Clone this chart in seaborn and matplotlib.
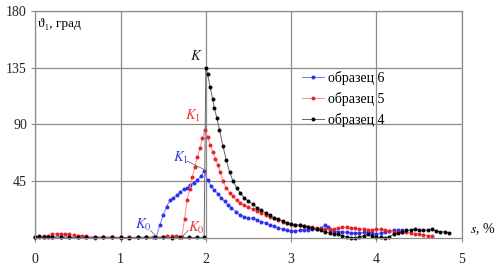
import numpy as np
import pandas as pd
import matplotlib
matplotlib.use("Agg")
import matplotlib.pyplot as plt
import seaborn as sns

# образец 6 (blue)
x6 = [0.0, 0.1, 0.2, 0.3, 0.4, 0.5, 0.6, 0.7, 0.8, 0.9, 1.0, 1.1, 1.2, 1.3, 1.38, 1.42,
      1.46, 1.5, 1.54, 1.58, 1.62, 1.66, 1.7, 1.74, 1.78, 1.82, 1.86, 1.9, 1.94, 1.98,
      2.02, 2.06, 2.1, 2.14, 2.18, 2.22, 2.26, 2.3, 2.35, 2.4, 2.45, 2.5, 2.55, 2.6,
      2.65, 2.7, 2.75, 2.8, 2.85, 2.9, 2.95, 3.0, 3.05, 3.1, 3.15, 3.2, 3.25, 3.3, 3.35,
      3.4, 3.43, 3.46, 3.5, 3.55, 3.6, 3.65, 3.7, 3.75, 3.8, 3.85, 3.9, 3.95, 4.0, 4.05,
      4.1, 4.15, 4.2, 4.25, 4.3]
y6 = [0.5, 0.6, 0.8, 0.7, 0.6, 0.5, 0.5, 0.4, 0.5, 0.5, 0.4, 0.5, 0.6, 0.6, 0.8, 1.0,
      10, 18, 25, 30, 32, 34, 36.5, 38.5, 40, 42, 44, 46, 49, 53,
      46, 41, 38, 35, 32, 29, 26.5, 24, 21, 18.5, 17, 16, 15.5, 14.5,
      13, 12, 10.5, 9.5, 8, 7, 6, 5.5, 5.5, 6, 6.5, 6.5, 7, 7, 8,
      10, 9, 6, 5.5, 5, 5, 4.5, 4, 4, 4, 4.5, 5, 4, 3.5, 4,
      5, 5.5, 6, 6, 6]

# образец 5 (red)
x5 = [0.0, 0.05, 0.1, 0.15, 0.2, 0.25, 0.3, 0.35, 0.4, 0.45, 0.5, 0.55, 0.6, 0.7, 0.8,
      0.9, 1.0, 1.1, 1.2, 1.3, 1.4, 1.5, 1.55, 1.6, 1.65, 1.69, 1.72, 1.75, 1.78, 1.81,
      1.84, 1.87, 1.9, 1.93, 1.96, 1.99, 2.02, 2.05, 2.08, 2.11, 2.14, 2.17, 2.2, 2.24,
      2.28, 2.32, 2.36, 2.4, 2.45, 2.5, 2.55, 2.6, 2.65, 2.7, 2.75, 2.8, 2.85, 2.9, 2.95,
      3.0, 3.05, 3.1, 3.15, 3.2, 3.25, 3.3, 3.35, 3.4, 3.45, 3.5, 3.55, 3.6, 3.65, 3.7,
      3.75, 3.8, 3.85, 3.9, 3.95, 4.0, 4.05, 4.1, 4.15, 4.2, 4.25, 4.3, 4.35, 4.4, 4.45,
      4.5, 4.55, 4.6, 4.65]
y5 = [1, 1, 1.5, 2, 3, 3.5, 3.5, 3, 3, 2.5, 2, 2, 1.5, 1.2, 1,
      0.8, 0.6, 0.5, 0.5, 0.6, 0.8, 1.2, 1.5, 1.8, 1.5, 1, 1, 15, 30, 39,
      48, 56, 64, 71, 79, 86, 80, 74, 68, 63, 58, 52, 45, 40,
      36, 33, 30, 28, 26, 24.5, 23, 21.5, 20, 18.5, 17, 15.5, 14.5, 13, 12,
      11, 10.5, 10, 9.5, 9, 8.5, 8, 7.5, 7, 7, 7.5, 8, 8.5, 8.5, 8,
      8, 7.5, 7, 6.5, 6.5, 7, 7, 6, 5.5, 5, 4.5, 4.5, 4.5, 4, 3.5,
      3, 2.5, 2, 2]

# образец 4 (black)
x4 = [0.0, 0.05, 0.1, 0.15, 0.2, 0.3, 0.4, 0.5, 0.6, 0.7, 0.8, 0.9, 1.0, 1.1, 1.2,
      1.3, 1.4, 1.5, 1.6, 1.7, 1.8, 1.9, 1.98, 2.0, 2.02, 2.05, 2.08, 2.1, 2.13, 2.16,
      2.2, 2.24, 2.28, 2.32, 2.36, 2.4, 2.45, 2.5, 2.55, 2.6, 2.65, 2.7, 2.75, 2.8, 2.85,
      2.9, 2.95, 3.0, 3.05, 3.1, 3.15, 3.2, 3.25, 3.3, 3.35, 3.4, 3.45, 3.5, 3.55, 3.6,
      3.65, 3.7, 3.75, 3.8, 3.85, 3.9, 3.95, 4.0, 4.05, 4.1, 4.15, 4.2, 4.25, 4.3, 4.35,
      4.4, 4.45, 4.5, 4.55, 4.6, 4.65, 4.7, 4.75, 4.8, 4.85]
y4 = [1.2, 1.5, 1.2, 1.0, 0.8, 0.8, 0.6, 0.6, 0.5, 0.5, 0.5, 0.5, 0.5, 0.4, 0.5,
      0.5, 0.5, 0.5, 0.4, 0.5, 0.5, 0.5, 0.5, 135, 130, 120, 110, 103, 95, 86,
      73, 62, 52, 45, 40, 36, 32, 29, 27, 24, 22, 20, 18, 16, 15,
      13.5, 12, 11, 10.5, 10, 9.5, 8.7, 8, 7, 6, 5, 4, 3.5, 3, 2,
      1, 0.3, 0.2, 0.5, 2, 3, 2, 1, 0.5, 0.3, 1, 3, 4, 5, 6,
      6.5, 7, 6.5, 6, 6.5, 7, 5.5, 5, 5, 4]

series = [
    ("образец 6", x6, y6, "#2b2bf0", "#7878ff"),
    ("образец 5", x5, y5, "#e8202a", "#ff8a8a"),
    ("образец 4", x4, y4, "#000000", "#666666"),
]

fig, ax = plt.subplots(figsize=(5.03, 2.73), dpi=100)
fig.subplots_adjust(left=0.07, right=0.918, top=0.96, bottom=0.128)
plt.rcParams["mathtext.fontset"] = "stix"
serif = ["Liberation Serif", "DejaVu Serif"]

for name, xs, ys, mc, lc in series:
    df = pd.DataFrame({"s": xs, "theta": ys})
    sns.lineplot(data=df, x="s", y="theta", ax=ax, sort=False, color=lc,
                 linewidth=0.7, marker="o", markersize=2.1,
                 markerfacecolor=mc, markeredgecolor=mc, label=name,
                 clip_on=False)

ax.set_xlim(0, 5)
ax.set_ylim(0, 180)
ax.set_xticks([0, 1, 2, 3, 4, 5])
ax.set_yticks([45, 90, 135, 180])
ax.set_xlabel("")
ax.set_ylabel("")
ax.grid(True, color="#8c8c8c", linewidth=0.9)
ax.set_axisbelow(True)
for sp in ax.spines.values():
    sp.set_color("#8c8c8c")
    sp.set_linewidth(0.9)
ax.tick_params(axis="both", colors="#8c8c8c", length=3, labelcolor="#222222",
               labelsize=10)
for lab in ax.get_xticklabels() + ax.get_yticklabels():
    lab.set_family(serif)
ax.tick_params(axis="x", pad=8)
ax.tick_params(axis="y", pad=3)

ax.text(0.03, 174, "ϑ₁, град", fontsize=9.5, family=serif, va="top", ha="left")
ax.text(5.1, 7, "$s$, %", fontsize=10, family=serif, va="center", ha="left",
        clip_on=False)

ax.text(1.96, 139, "$K$", fontsize=10.5, color="#222222", ha="right", va="bottom")
ax.text(1.94, 90, "$K_1$", fontsize=10.5, color="#e83a3a", ha="right", va="bottom")
ax.text(1.79, 2, "$K_0$", fontsize=10.5, color="#e83a3a", ha="left", va="bottom")
ax.text(1.8, 57, "$K_1$", fontsize=10.5, color="#3b3bd8", ha="right", va="bottom")
ax.text(1.36, 4, "$K_0$", fontsize=10.5, color="#3b3bd8", ha="right", va="bottom")
ax.plot([1.78, 1.99], [61, 54], color="#555555", linewidth=0.5)
ax.plot([1.35, 1.42], [6, 1.5], color="#555555", linewidth=0.5)
ax.plot([1.73, 1.79], [1.5, 6], color="#555555", linewidth=0.5)

leg = ax.legend(loc="upper left", bbox_to_anchor=(0.595, 0.79), frameon=False,
                prop={"family": serif, "size": 10}, handlelength=1.6,
                handletextpad=0.3, labelspacing=0.5)

plt.savefig("out.png", dpi=100)
